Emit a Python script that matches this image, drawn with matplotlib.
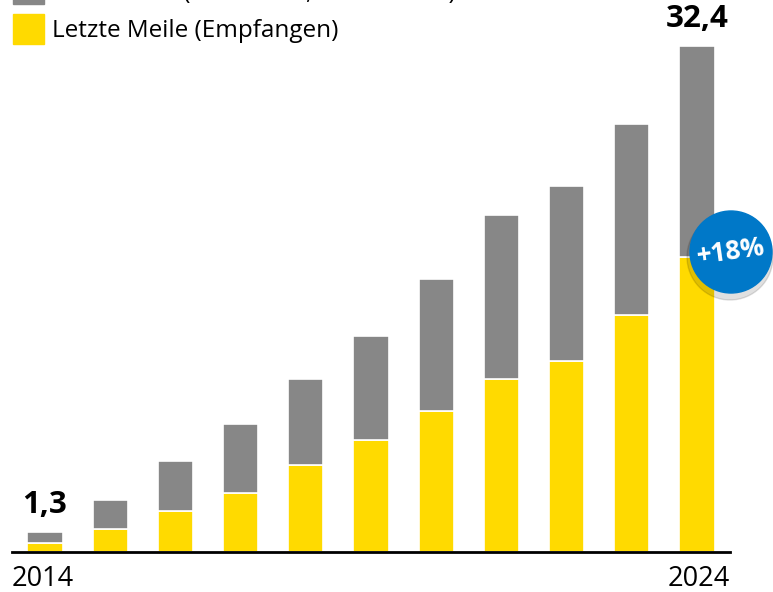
import matplotlib
matplotlib.use("Agg")
import matplotlib.pyplot as plt
from matplotlib.patches import Ellipse, Rectangle
import numpy as np

plt.rcParams['font.family'] = ['Open Sans', 'DejaVu Sans']

years = [2014, 2015, 2016, 2017, 2018, 2019, 2020, 2021, 2022, 2023, 2024]
totals = [1.3, 3.3, 5.8, 8.2, 11.1, 13.8, 17.5, 21.6, 23.4, 27.4, 32.4]
last_mile = [0.6, 1.5, 2.6, 3.8, 5.6, 7.2, 9.0, 11.1, 12.2, 15.2, 18.9]
first_mile = [t - l for t, l in zip(totals, last_mile)]
total_labels = {0: "1,3", 10: "32,4"}
growth_label = "+18%"
legend_labels = ["Erste Meile (Versendet, Retourniert)", "Letzte Meile (Empfangen)"]

yellow = "#FFDA00"
grey = "#878787"
blue = "#0078C8"

W, H = 773, 592
fig = plt.figure(figsize=(W / 100, H / 100), dpi=100)
ax = fig.add_axes([12 / W, 40 / H, 718 / W, 1 - 40 / H])

x = np.arange(len(years))
ax.bar(x, last_mile, width=0.54, color=yellow, edgecolor="white", linewidth=1.2)
ax.bar(x, first_mile, bottom=last_mile, width=0.54, color=grey,
       edgecolor="white", linewidth=1.2)

ax.set_xlim(-0.506, len(years) - 1 + 0.506)
ax.set_ylim(0, 552 / 15.62)
for s in ["top", "right", "left"]:
    ax.spines[s].set_visible(False)
ax.spines["bottom"].set_linewidth(2)
ax.set_yticks([])
ax.set_xticks([])

# first / last year labels
fig.text(12 / W, 1 - 586 / H, str(years[0]), ha="left", va="baseline", fontsize=19.5)
fig.text(730 / W, 1 - 586 / H, str(years[-1]), ha="right", va="baseline", fontsize=19.5)

for i, lab in total_labels.items():
    ax.text(x[i], totals[i] + 0.75, lab, ha="center", va="bottom",
            fontsize=22.5, fontweight="bold")

# legend, top row cut off by the figure edge
fig.add_artist(Rectangle((13 / W, 1 - 4 / H), 31 / W, 30 / H, color=grey,
                         transform=fig.transFigure))
fig.text(52 / W, 1 + 1 / H, legend_labels[0], fontsize=17.5, va="baseline")
fig.add_artist(Rectangle((13 / W, 1 - 44 / H), 31 / W, 30 / H, color=yellow,
                         transform=fig.transFigure))
fig.text(52 / W, 1 - 37 / H, legend_labels[1], fontsize=17.5, va="baseline")

# growth badge
cx, cy, r = 731, 252, 41
fig.add_artist(Ellipse(((cx - 1) / W, 1 - (cy + 5) / H), 2 * (r + 2) / W, 2 * (r + 2) / H,
                       color="black", alpha=0.12, transform=fig.transFigure))
fig.add_artist(Ellipse((cx / W, 1 - cy / H), 2 * r / W, 2 * r / H,
                       color=blue, transform=fig.transFigure))
fig.text(cx / W, 1 - cy / H, growth_label, color="white", fontsize=19,
         fontweight="bold", ha="center", va="center", rotation=8)

fig.savefig("out.png", dpi=100)
